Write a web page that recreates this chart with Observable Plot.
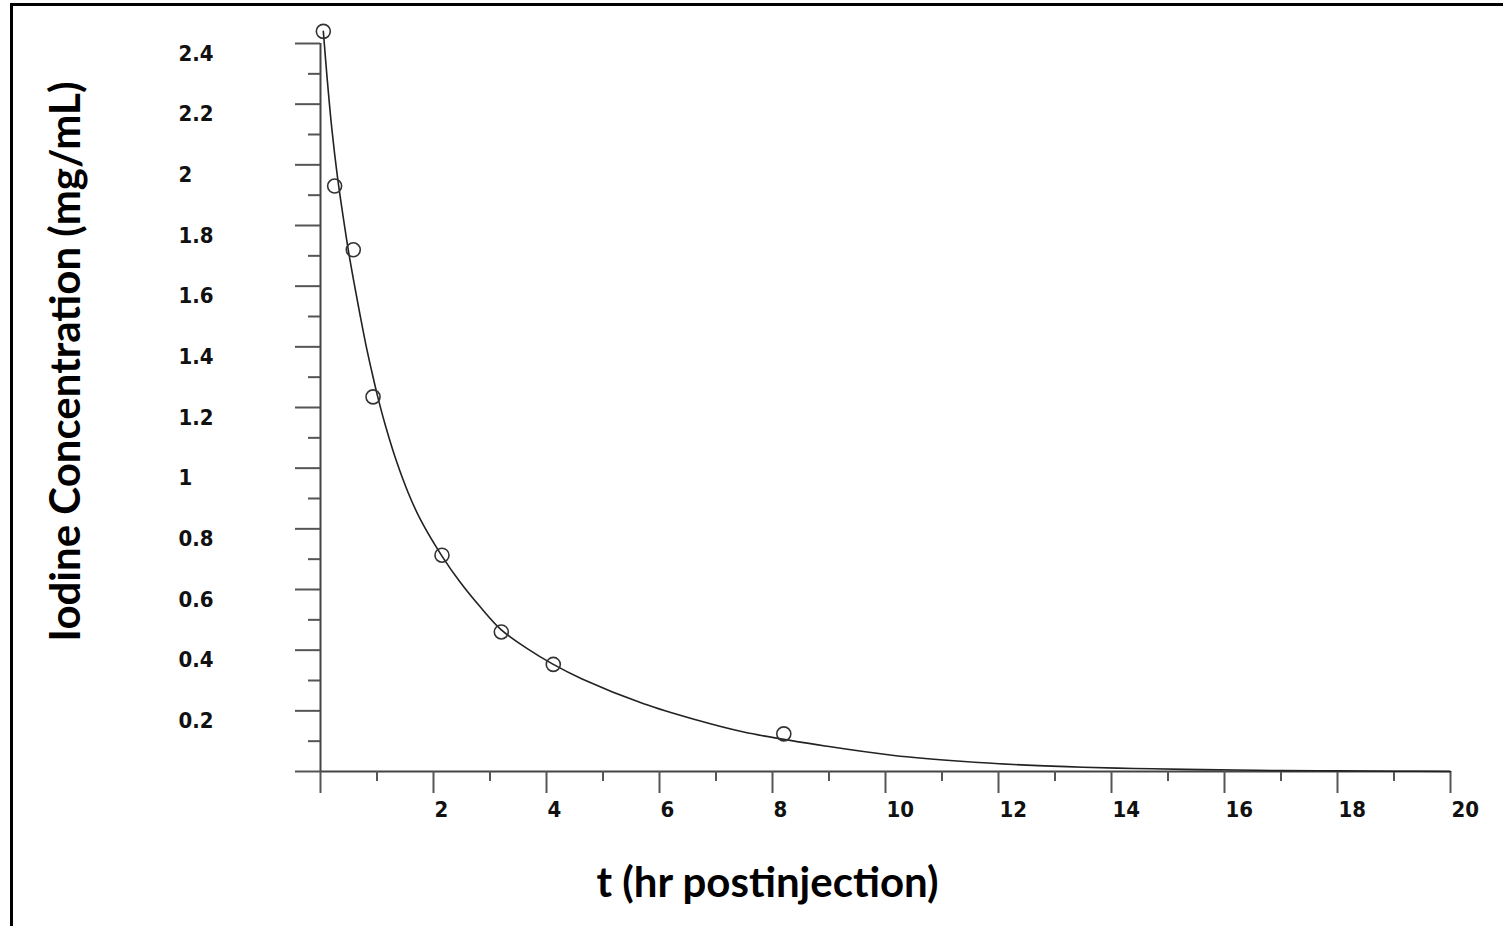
<!DOCTYPE html>
<html>
<head>
<meta charset="utf-8">
<script src="https://cdn.jsdelivr.net/npm/d3@7"></script>
<script src="https://cdn.jsdelivr.net/npm/@observablehq/plot@0.6"></script>
<style>
  html, body { margin: 0; padding: 0; background: #fff; }
  #wrap { position: relative; width: 1503px; height: 926px; overflow: hidden; }
  #frame { position: absolute; left: 10px; top: 3px; right: -10px; bottom: -10px;
           border-left: 3px solid #000; border-top: 3px solid #000; pointer-events: none; }
</style>
</head>
<body>
<div id="wrap"><div id="frame"></div></div>
<script>
// Measured samples (hr postinjection, mg/mL)
const sampleT = [0.05, 0.25, 0.58, 0.93, 2.15, 3.2, 4.12, 8.2];
const sampleC = [2.44, 1.93, 1.72, 1.235, 0.713, 0.46, 0.353, 0.124];

// Fitted curve
const curveT = [0.05, 0.12, 0.2, 0.3, 0.4, 0.5, 0.6, 0.7, 0.8, 0.9, 1.0, 1.15, 1.35, 1.55, 1.77, 2.15, 2.48, 2.83, 3.2, 3.66, 4.12, 4.63, 5.72, 6.61, 7.49, 8.97, 10.15, 11.33, 12.5, 13.5, 14.4, 15.3, 16.2, 17.0, 18.0, 19.0, 20.0];
const curveC = [2.44, 2.28, 2.12, 1.96, 1.83, 1.71, 1.605, 1.505, 1.41, 1.325, 1.245, 1.14, 1.02, 0.92, 0.83, 0.71, 0.622, 0.542, 0.467, 0.405, 0.353, 0.305, 0.223, 0.172, 0.13, 0.083, 0.053, 0.034, 0.021, 0.014, 0.01, 0.007, 0.005, 0.003, 0.002, 0.001, 0.0];

// Axes
const xTicks = [0, 2, 4, 6, 8, 10, 12, 14, 16, 18, 20];
const xTickLabels = ["", "2", "4", "6", "8", "10", "12", "14", "16", "18", "20"];
const xMinorTicks = [1, 3, 5, 7, 9, 11, 13, 15, 17, 19];
const yTicks = [0, 0.2, 0.4, 0.6, 0.8, 1.0, 1.2, 1.4, 1.6, 1.8, 2.0, 2.2, 2.4];
const yTickLabels = ["", "0.2", "0.4", "0.6", "0.8", "1", "1.2", "1.4", "1.6", "1.8", "2", "2.2", "2.4"];
const yMinorTicks = [0.1, 0.3, 0.5, 0.7, 0.9, 1.1, 1.3, 1.5, 1.7, 1.9, 2.1, 2.3];
const xTitle = "t (hr postinjection)";
const yTitle = "Iodine Concentration (mg/mL)";

const curve = curveT.map((t, i) => ({t, c: curveC[i]}));
const samples = sampleT.map((t, i) => ({t, c: sampleC[i]}));

const tickFont = "'Liberation Sans Narrow', 'DejaVu Sans Condensed', 'Liberation Sans', sans-serif";
const titleFont = "Lato, 'Open Sans', sans-serif";
const xLabel = d => xTickLabels[xTicks.findIndex(v => Math.abs(v - d) < 1e-9)];
const yLabel = d => yTickLabels[yTicks.findIndex(v => Math.abs(v - d) < 1e-9)];

const chart = Plot.plot({
  width: 1503,
  height: 926,
  marginLeft: 320,
  marginRight: 53,
  marginTop: 43,
  marginBottom: 155,
  style: {background: "transparent", overflow: "visible"},
  x: {domain: [0, 20]},
  y: {domain: [0, 2.4]},
  marks: [
    Plot.ruleY([0], {stroke: "#444", strokeWidth: 2}),
    Plot.ruleX([0], {stroke: "#444", strokeWidth: 2}),
    // tick marks
    Plot.axisX(xMinorTicks, {tickSize: 10, tickFormat: () => "", stroke: "#555", strokeWidth: 2, label: null}),
    Plot.axisX(xTicks, {tickSize: 22, tickFormat: () => "", stroke: "#555", strokeWidth: 2, label: null}),
    Plot.axisY(yMinorTicks, {tickSize: 12, tickFormat: () => "", stroke: "#555", strokeWidth: 2, label: null}),
    Plot.axisY(yTicks, {tickSize: 25, tickFormat: () => "", stroke: "#555", strokeWidth: 2, label: null}),
    // tick labels
    Plot.axisX(xTicks, {
      tickSize: 0, tickPadding: 30, stroke: "none", fill: "#111",
      tickFormat: xLabel, textAnchor: "start", dx: 1,
      fontSize: 22, fontWeight: "bold", fontFamily: tickFont, label: null
    }),
    Plot.axisY(yTicks, {
      tickSize: 0, tickPadding: 0, stroke: "none", fill: "#111",
      tickFormat: yLabel, textAnchor: "start", dx: -142, dy: 10,
      fontSize: 22, fontWeight: "bold", fontFamily: tickFont, label: null
    }),
    Plot.line(curve, {x: "t", y: "c", curve: "catmull-rom", stroke: "#222", strokeWidth: 1.6}),
    Plot.dot(samples, {x: "t", y: "c", r: 7, stroke: "#333", strokeWidth: 1.6, fill: "none"}),
    Plot.text([xTitle], {
      frameAnchor: "bottom", dx: -118, dy: 112, lineAnchor: "middle", textAnchor: "middle",
      fontSize: 42, fontWeight: "bold", fontFamily: titleFont, fill: "#000"
    }),
    Plot.text([yTitle], {
      frameAnchor: "left", rotate: -90, dx: -254, dy: -46, lineAnchor: "middle", textAnchor: "middle",
      fontSize: 42, fontWeight: "bold", fontFamily: titleFont, fill: "#000"
    })
  ]
});
document.getElementById("wrap").prepend(chart);
</script>
</body>
</html>
